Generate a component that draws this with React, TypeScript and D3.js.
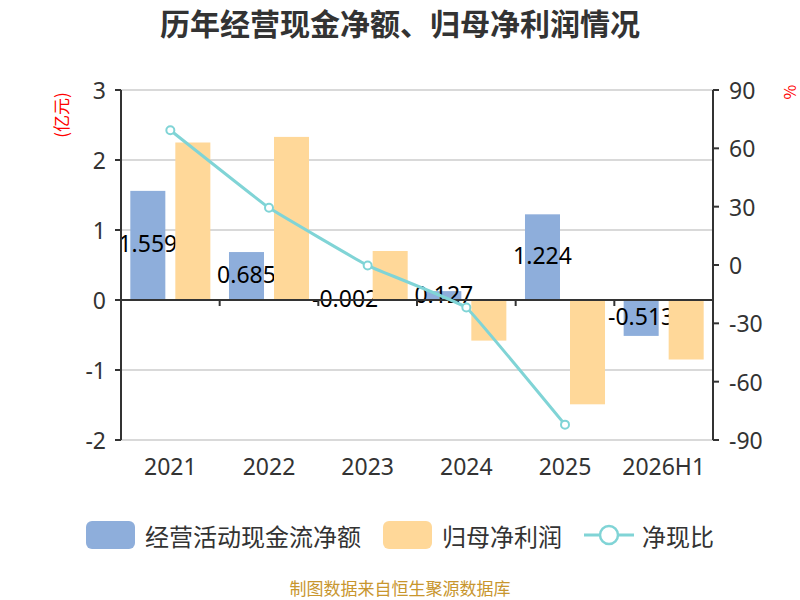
import React from 'react';
import * as d3 from 'd3';

const categories = ['2021', '2022', '2023', '2024', '2025', '2026H1'];
const cashFlow = [1.559, 0.685, -0.002, 0.127, 1.224, -0.513];
const netProfit = [2.25, 2.33, 0.7, -0.58, -1.49, -0.85];
const cashRatio: (number | null)[] = [69.3, 29.4, -0.3, -21.9, -82.1, null];
const leftTicks = [-2, -1, 0, 1, 2, 3];
const rightTicks = [-90, -60, -30, 0, 30, 60, 90];

const W = 800;
const H = 600;
const margin = { top: 90, right: 87, bottom: 160, left: 121 };

const BLUE = '#8eaedb';
const ORANGE = '#ffd899';
const TEAL = '#80d4d6';
const AXIS = '#333';
const FONT = '"Noto Sans CJK SC", "Noto Sans", sans-serif';
const NUM_FONT = '"Noto Sans", sans-serif';

const App: React.FC = () => {
  const x = d3.scaleBand<string>()
    .domain(categories)
    .range([margin.left, W - margin.right]);

  const inner = d3.scaleBand<string>()
    .domain(['cash', 'profit'])
    .range([0, x.bandwidth()])
    .paddingInner(0.222)
    .paddingOuter(0.207);

  const yL = d3.scaleLinear().domain([-2, 3]).range([H - margin.bottom, margin.top]);
  const yR = d3.scaleLinear().domain([-90, 90]).range([H - margin.bottom, margin.top]);

  const x0 = margin.left;
  const x1 = W - margin.right;
  const zero = yL(0);

  const linePts = categories
    .map((c, i) => ({ c, v: cashRatio[i] }))
    .filter(d => d.v !== null) as { c: string; v: number }[];

  const line = d3.line<{ c: string; v: number }>()
    .x(d => (x(d.c) ?? 0) + x.bandwidth() / 2)
    .y(d => yR(d.v))
    .curve(d3.curveCardinal.tension(0.8));

  return (
    <svg width={W} height={H} style={{ position: 'absolute', left: 0, top: 0, background: '#fff' }} fontFamily={FONT}>
      <text x={W / 2} y={22} textAnchor="middle" dominantBaseline="central" fontSize={30} fontWeight="bold" fill="#333">
        历年经营现金净额、归母净利润情况
      </text>

      {/* grid */}
      {leftTicks.map(t => (
        <line key={'g' + t} x1={x0} x2={x1} y1={yL(t)} y2={yL(t)} stroke="#ccc" strokeWidth={1.5} />
      ))}

      {/* blue bars */}
      {categories.map((c, i) => {
        const v = cashFlow[i];
        const bx = (x(c) ?? 0) + (inner('cash') ?? 0);
        return (
          <rect key={'b' + c} x={bx} width={inner.bandwidth()}
            y={Math.min(yL(v), zero)} height={Math.abs(yL(v) - zero)} fill={BLUE} />
        );
      })}
      {/* blue labels, drawn under the orange bars as in the source */}
      {categories.map((c, i) => {
        const v = cashFlow[i];
        const cx = (x(c) ?? 0) + (inner('cash') ?? 0) + inner.bandwidth() / 2;
        return (
          <text key={'bl' + c} x={cx} y={(yL(v) + zero) / 2 - 2} textAnchor="middle"
            dominantBaseline="central" fontSize={23} fill="#000" fontFamily={NUM_FONT}>
            {v.toFixed(3)}
          </text>
        );
      })}
      {/* orange bars */}
      {categories.map((c, i) => {
        const v = netProfit[i];
        const bx = (x(c) ?? 0) + (inner('profit') ?? 0);
        return (
          <rect key={'o' + c} x={bx} width={inner.bandwidth()}
            y={Math.min(yL(v), zero)} height={Math.abs(yL(v) - zero)} fill={ORANGE} />
        );
      })}

      {/* x axis at zero */}
      <line x1={x0} x2={x1} y1={zero} y2={zero} stroke={AXIS} strokeWidth={2} />
      {categories.slice(1).map(c => (
        <line key={'xt' + c} x1={x(c)} x2={x(c)} y1={zero} y2={zero + 6} stroke={AXIS} strokeWidth={2} />
      ))}
      {categories.map(c => (
        <text key={'xl' + c} x={(x(c) ?? 0) + x.bandwidth() / 2} y={466} textAnchor="middle"
          dominantBaseline="central" fontSize={23} fill="#333" fontFamily={NUM_FONT}>
          {c}
        </text>
      ))}

      {/* left axis */}
      <line x1={x0} x2={x0} y1={yL(3)} y2={yL(-2)} stroke={AXIS} strokeWidth={2} />
      {leftTicks.map(t => (
        <g key={'lt' + t}>
          <line x1={x0 - 6} x2={x0} y1={yL(t)} y2={yL(t)} stroke={AXIS} strokeWidth={2} />
          <text x={x0 - 15} y={yL(t)} textAnchor="end" dominantBaseline="central" fontSize={23} fill="#333"
            fontFamily={NUM_FONT}>{t}</text>
        </g>
      ))}
      <text transform={`translate(60,115) rotate(-90)`} textAnchor="middle" dominantBaseline="central"
        fontSize={17} fill="#ff0000">(亿元)</text>

      {/* right axis */}
      <line x1={x1} x2={x1} y1={yR(90)} y2={yR(-90)} stroke={AXIS} strokeWidth={2} />
      {rightTicks.map(t => (
        <g key={'rt' + t}>
          <line x1={x1} x2={x1 + 6} y1={yR(t)} y2={yR(t)} stroke={AXIS} strokeWidth={2} />
          <text x={x1 + 16} y={yR(t)} textAnchor="start" dominantBaseline="central" fontSize={23} fill="#333"
            fontFamily={NUM_FONT}>{t}</text>
        </g>
      ))}
      <text transform={`translate(789,92) rotate(-90)`} textAnchor="middle" dominantBaseline="central"
        fontSize={16} fill="#ff0000">%</text>

      {/* ratio line */}
      <path d={line(linePts) ?? ''} fill="none" stroke={TEAL} strokeWidth={3} />
      {linePts.map(d => (
        <circle key={'p' + d.c} cx={(x(d.c) ?? 0) + x.bandwidth() / 2} cy={yR(d.v)} r={4}
          fill="#fff" stroke={TEAL} strokeWidth={2} />
      ))}

      {/* legend */}
      <g fontSize={24} fill="#333">
        <rect x={86} y={521} width={49} height={28} rx={6} fill={BLUE} />
        <text x={145} y={535} dominantBaseline="central" fill="#333">经营活动现金流净额</text>
        <rect x={383} y={521} width={49} height={28} rx={6} fill={ORANGE} />
        <text x={442} y={535} dominantBaseline="central" fill="#333">归母净利润</text>
        <line x1={584} x2={634} y1={535} y2={535} stroke={TEAL} strokeWidth={3} />
        <circle cx={609} cy={535} r={9} fill="#fff" stroke={TEAL} strokeWidth={2.5} />
        <text x={642} y={535} dominantBaseline="central" fill="#333">净现比</text>
      </g>

      <text x={W / 2} y={587} textAnchor="middle" dominantBaseline="central" fontSize={17} fill="#c8962e">
        制图数据来自恒生聚源数据库
      </text>
    </svg>
  );
};

export default App;
